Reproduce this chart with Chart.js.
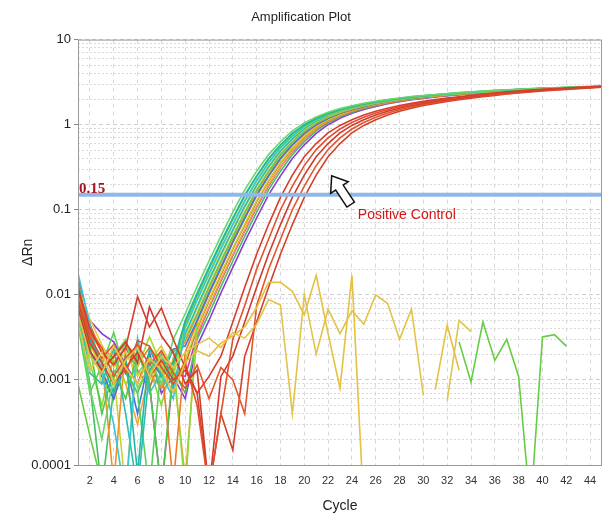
<!DOCTYPE html>
<html>
<head>
<meta charset="utf-8">
<script src="https://cdn.jsdelivr.net/npm/chart.js@4.4.1/dist/chart.umd.min.js"></script>
<style>
  html, body { margin: 0; padding: 0; background: #fff; }
</style>
</head>
<body>
<canvas id="myChart" width="605" height="520"></canvas>
<script>
const ctx = document.querySelector("#myChart").getContext("2d");

const cycles = [1, 2, 3, 4, 5, 6, 7, 8, 9, 10, 11, 12, 13, 14, 15, 16, 17, 18, 19, 20, 21, 22, 23,
  24, 25, 26, 27, 28, 29, 30, 31, 32, 33, 34, 35, 36, 37, 38, 39, 40, 41, 42, 43, 44, 45];
const xTicks = [2, 4, 6, 8, 10, 12, 14, 16, 18, 20, 22, 24, 26, 28, 30, 32, 34, 36, 38, 40, 42, 44];
const yTicks = [0.0001, 0.001, 0.01, 0.1, 1, 10];
const yTickLabels = ["0.0001", "0.001", "0.01", "0.1", "1", "10"];
const threshold = 0.15;

// samples (delta Rn per cycle)
const well01 = [0.006, 0.0008, 0.0002, 0.0011, 0.0028, 0.0012, 0.0018, 0.0009, 0.003,
  0.006, 0.0125, 0.025, 0.049, 0.094, 0.171, 0.284, 0.445, 0.63, 0.845, 1.05, 1.235, 1.4, 1.545, 1.67, 1.785, 1.885, 1.98, 2.06, 2.14, 2.2, 2.26, 2.32, 2.38, 2.43, 2.48, 2.53, 2.57, 2.61, 2.65, 2.69, 2.72, 2.75, 2.78, 2.8, 2.82];
const well02 = [0.014, 0.003, 0.0016, 0.0007, 0.0019, 0.00008, 0.0024, 0.0011, 0.0016,
  0.005, 0.0105, 0.021, 0.042, 0.08, 0.15, 0.25, 0.4, 0.58, 0.79, 1.0, 1.19, 1.36, 1.51, 1.64, 1.76, 1.86, 1.96, 2.04, 2.12, 2.19, 2.25, 2.31, 2.37, 2.42, 2.47, 2.52, 2.56, 2.6, 2.64, 2.68, 2.71, 2.74, 2.77, 2.8, 2.82];
const well03 = [0.008, 0.0025, 0.0004, 0.0013, 0.0006, 0.0021, 0.0009, 0.00005, 0.0014,
  0.0046, 0.0098, 0.02, 0.04, 0.077, 0.145, 0.245, 0.39, 0.57, 0.78, 0.98, 1.17, 1.34, 1.49, 1.62, 1.74, 1.85, 1.95, 2.03, 2.11, 2.18, 2.24, 2.3, 2.36, 2.41, 2.46, 2.51, 2.55, 2.59, 2.63, 2.67, 2.7, 2.73, 2.76, 2.79, 2.81];
const well04 = [0.018, 0.0045, 0.0012, 0.0003, 0.00004, 0.0031, 0.0007, 0.0012, 0.0006, 0.0042,
  0.0088, 0.0178, 0.0355, 0.068, 0.128, 0.221, 0.36, 0.535, 0.735, 0.95, 1.145, 1.32, 1.475, 1.61, 1.73, 1.835, 1.935, 2.02, 2.1, 2.17, 2.23, 2.29, 2.35, 2.4, 2.45, 2.5, 2.55, 2.59, 2.63, 2.67, 2.7, 2.73, 2.76, 2.79, 2.81];
const well05 = [0.01, 0.0035, 0.0022, 0.0017, 0.0009, 0.0014, 0.0032, 0.0015, 0.0011, 0.004,
  0.0085, 0.017, 0.034, 0.066, 0.124, 0.215, 0.35, 0.525, 0.72, 0.93, 1.13, 1.3, 1.46, 1.6, 1.72, 1.825, 1.925, 2.01, 2.09, 2.16, 2.22, 2.28, 2.34, 2.39, 2.44, 2.49, 2.54, 2.58, 2.62, 2.66, 2.69, 2.72, 2.75, 2.78, 2.8];
const well06 = [0.007, 0.0012, 0.0009, 0.0024, 0.0004, 0.00005, 0.0013, 0.002, 0.0008, 0.0035,
  0.0073, 0.015, 0.03, 0.058, 0.11, 0.195, 0.32, 0.49, 0.68, 0.9, 1.1, 1.28, 1.44, 1.58, 1.7, 1.81, 1.91, 2.0, 2.08, 2.155, 2.22, 2.28, 2.34, 2.39, 2.44, 2.49, 2.54, 2.58, 2.62, 2.66, 2.69, 2.72, 2.75, 2.78, 2.8];
const well07 = [0.012, 0.0052, 0.0026, 0.0014, 0.0021, 0.0011, 0.0017, 0.0025, 0.0013, 0.0032,
  0.0069, 0.0142, 0.0285, 0.056, 0.106, 0.19, 0.31, 0.48, 0.67, 0.88, 1.08, 1.26, 1.42, 1.56, 1.69, 1.8, 1.9, 1.99, 2.07, 2.145, 2.21, 2.27, 2.33, 2.38, 2.43, 2.48, 2.53, 2.57, 2.61, 2.65, 2.68, 2.71, 2.74, 2.77, 2.79];
const well08 = [0.0045, 0.0007, 0.0015, 0.0036, 0.0012, 0.0007, 0.00005, 0.0016, 0.0021, 0.003,
  0.006, 0.0125, 0.025, 0.049, 0.094, 0.171, 0.284, 0.445, 0.63, 0.845, 1.05, 1.235, 1.4, 1.545, 1.67, 1.785, 1.885, 1.98, 2.06, 2.14, 2.2, 2.26, 2.32, 2.38, 2.43, 2.48, 2.53, 2.57, 2.61, 2.65, 2.69, 2.72, 2.75, 2.78, 2.8];
const well09 = [0.009, 0.0028, 0.0018, 0.00006, 0.0026, 0.0019, 0.0012, 0.0008, 0.0017, 0.0028,
  0.0058, 0.012, 0.024, 0.047, 0.09, 0.165, 0.275, 0.435, 0.62, 0.83, 1.035, 1.22, 1.385, 1.53, 1.66, 1.775, 1.875, 1.97, 2.05, 2.13, 2.19, 2.25, 2.31, 2.37, 2.42, 2.47, 2.52, 2.56, 2.6, 2.64, 2.68, 2.71, 2.74, 2.77, 2.79];
const well10 = [0.005, 0.0021, 0.0013, 0.0006, 0.0016, 0.0004, 0.0019, 0.0011, 0.0023, 0.0025,
  0.005, 0.0105, 0.021, 0.042, 0.08, 0.15, 0.25, 0.4, 0.58, 0.79, 1.0, 1.19, 1.36, 1.51, 1.64, 1.76, 1.86, 1.96, 2.04, 2.12, 2.19, 2.25, 2.31, 2.37, 2.42, 2.47, 2.52, 2.56, 2.6, 2.64, 2.68, 2.71, 2.74, 2.77, 2.8];
const well11 = [0.011, 0.004, 0.0024, 0.0018, 0.0027, 0.0015, 0.0024, 0.0016, 0.00006, 0.0021,
  0.0048, 0.0101, 0.0203, 0.041, 0.078, 0.146, 0.245, 0.395, 0.575, 0.78, 0.99, 1.18, 1.35, 1.5, 1.63, 1.75, 1.85, 1.95, 2.03, 2.11, 2.18, 2.24, 2.3, 2.36, 2.41, 2.46, 2.51, 2.55, 2.59, 2.63, 2.67, 2.7, 2.73, 2.76, 2.79];
const well12 = [0.0065, 0.0016, 0.0005, 0.0019, 0.003, 0.0008, 0.0014, 0.0005, 0.0018, 0.00005,
  0.0052, 0.0108, 0.0215, 0.043, 0.082, 0.153, 0.255, 0.405, 0.585, 0.795, 1.005, 1.195, 1.365, 1.515, 1.645, 1.765, 1.865, 1.965, 2.045, 2.125, 2.195, 2.255, 2.315, 2.375, 2.425, 2.475, 2.525, 2.565, 2.605, 2.645, 2.685, 2.715, 2.745, 2.775, 2.8];
const well13 = [0.008, 0.0033, 0.0009, 0.0012, 0.00005, 0.0023, 0.001, 0.0015, 0.0009, 0.0017,
  0.0042, 0.0088, 0.0178, 0.0355, 0.068, 0.128, 0.221, 0.36, 0.535, 0.735, 0.95, 1.145, 1.32, 1.475, 1.61, 1.73, 1.835, 1.935, 2.02, 2.1, 2.17, 2.23, 2.29, 2.35, 2.4, 2.45, 2.5, 2.55, 2.59, 2.63, 2.67, 2.7, 2.73, 2.76, 2.79];
const well14 = [0.016, 0.0045, 0.0021, 0.0016, 0.0024, 0.0013, 0.0008, 0.0019, 0.0011, 0.0015,
  0.004, 0.0085, 0.0172, 0.0345, 0.066, 0.125, 0.216, 0.352, 0.525, 0.725, 0.94, 1.135, 1.31, 1.465, 1.6, 1.72, 1.825, 1.925, 2.01, 2.09, 2.16, 2.22, 2.28, 2.34, 2.39, 2.44, 2.49, 2.54, 2.58, 2.62, 2.66, 2.69, 2.72, 2.75, 2.78];
const well15 = [0.0075, 0.0026, 0.0014, 0.0021, 0.0009, 0.0003, 0.0012, 0.0022, 0.0014, 0.00007,
  0.0035, 0.0073, 0.015, 0.03, 0.058, 0.11, 0.195, 0.32, 0.49, 0.68, 0.9, 1.1, 1.28, 1.44, 1.58, 1.7, 1.81, 1.91, 2.0, 2.08, 2.155, 2.22, 2.28, 2.34, 2.39, 2.44, 2.49, 2.54, 2.58, 2.62, 2.66, 2.69, 2.72, 2.75, 2.78];
const well16 = [0.013, 0.0038, 0.0011, 0.0006, 0.0017, 0.0026, 0.0009, 0.00005, 0.0012, 0.0011,
  0.0033, 0.007, 0.0145, 0.029, 0.056, 0.107, 0.19, 0.315, 0.483, 0.672, 0.89, 1.09, 1.27, 1.43, 1.57, 1.69, 1.8, 1.9, 1.99, 2.07, 2.145, 2.21, 2.27, 2.33, 2.38, 2.43, 2.48, 2.53, 2.57, 2.61, 2.65, 2.68, 2.71, 2.74, 2.77];
const well17 = [0.0055, 0.0009, 0.00005, 0.0008, 0.0013, 0.0007, 0.0016, 0.0008, 0.0013, 0.0007, 0.003,
  0.006, 0.0125, 0.025, 0.049, 0.094, 0.171, 0.284, 0.445, 0.63, 0.845, 1.05, 1.235, 1.4, 1.545, 1.67, 1.785, 1.885, 1.98, 2.06, 2.14, 2.2, 2.26, 2.32, 2.38, 2.43, 2.48, 2.53, 2.57, 2.61, 2.65, 2.69, 2.72, 2.75, 2.78];
const well18 = [0.01, 0.005, 0.0035, 0.0028, 0.0015, 0.0009, 0.0021, 0.0007, 0.0011, 0.0006, 0.0025,
  0.005, 0.0105, 0.021, 0.042, 0.08, 0.15, 0.25, 0.4, 0.58, 0.79, 1.0, 1.19, 1.36, 1.51, 1.64, 1.76, 1.86, 1.96, 2.04, 2.12, 2.19, 2.25, 2.31, 2.37, 2.42, 2.47, 2.52, 2.56, 2.6, 2.64, 2.68, 2.71, 2.74, 2.77];

// positive controls
const posCtrl1 = [0.012, 0.004, 0.0021, 0.0015, 0.0024, 0.0095, 0.0042, 0.007, 0.003, 0.0014, 0.0007, 0.0011,
  0.0019, 0.0048, 0.0123, 0.03, 0.067, 0.14, 0.255, 0.42, 0.6, 0.8, 0.98, 1.14, 1.3, 1.44, 1.56, 1.68, 1.78, 1.88, 1.97, 2.05, 2.13, 2.21, 2.29, 2.36, 2.43, 2.49, 2.55, 2.6, 2.65, 2.7, 2.75, 2.79, 2.82];
const posCtrl2 = [0.009, 0.0032, 0.0018, 0.0026, 0.0012, 0.0029, 0.0025, 0.0014, 0.0009, 0.0016, 0.0005, 0.00005, 0.0004,
  0.003, 0.0075, 0.02, 0.045, 0.1, 0.19, 0.33, 0.51, 0.7, 0.89, 1.06, 1.22, 1.37, 1.5, 1.62, 1.73, 1.83, 1.92, 2.01, 2.1, 2.17, 2.25, 2.32, 2.39, 2.46, 2.52, 2.58, 2.63, 2.68, 2.73, 2.77, 2.8];
const posCtrl3 = [0.007, 0.0022, 0.0013, 0.0019, 0.0028, 0.0016, 0.0072, 0.0033, 0.0021, 0.0009, 0.0013, 0.00005, 0.0011,
  0.0019, 0.0048, 0.0123, 0.03, 0.067, 0.14, 0.255, 0.42, 0.6, 0.8, 0.98, 1.14, 1.3, 1.44, 1.56, 1.68, 1.78, 1.88, 1.97, 2.05, 2.13, 2.21, 2.29, 2.36, 2.43, 2.49, 2.55, 2.6, 2.65, 2.7, 2.75, 2.79];
const posCtrl4 = [0.011, 0.0035, 0.0024, 0.0011, 0.0018, 0.0026, 0.0015, 0.0022, 0.0012, 0.0008, 0.0015, 0.0006, 0.0014, 0.001,
  0.0004, 0.0075, 0.02, 0.045, 0.1, 0.19, 0.33, 0.51, 0.7, 0.89, 1.06, 1.22, 1.37, 1.5, 1.62, 1.73, 1.83, 1.92, 2.01, 2.1, 2.17, 2.25, 2.32, 2.39, 2.46, 2.52, 2.58, 2.63, 2.68, 2.73, 2.77];
const posCtrl5 = [0.0085, 0.0027, 0.0016, 0.0009, 0.0014, 0.0021, 0.0011, 0.0017, 0.001, 0.0013, 0.0007, 0.00005, 0.0004, 0.00015,
  0.0019, 0.0048, 0.0123, 0.03, 0.067, 0.14, 0.255, 0.42, 0.6, 0.8, 0.98, 1.14, 1.3, 1.44, 1.56, 1.68, 1.78, 1.88, 1.97, 2.05, 2.13, 2.21, 2.29, 2.36, 2.43, 2.49, 2.55, 2.6, 2.65, 2.7, 2.75];

// no amplification (null = negative value, not drawn on log axis)
const negA = [0.006, 0.0019, 0.0012, 0.0025, 0.0014, 0.0009, 0.0018, 0.0013, 0.0007, 0.0016, 0.0022, 0.0019, 0.0027, 0.0033,
  0.0042, 0.0071, 0.014, 0.014, 0.011, 0.0058, 0.017, 0.0035, 0.0008, 0.017, 0.00003,
  null, null, null, null, null, 0.00077, 0.0044, 0.0013,
  null, null, null, null, null, null, null, null, null, null, null, null];
const negB = [0.0045, 0.0013, 0.0021, 0.0009, 0.0017, 0.0024, 0.0011, 0.0019, 0.0014, 0.0021, 0.0026, 0.0031, 0.0024, 0.0036,
  0.0031, 0.0045, 0.0088, 0.0076, 0.0004, 0.01, 0.002, 0.0068, 0.0035, 0.0065, 0.0045, 0.01, 0.0079, 0.003, 0.0068, 0.00066,
  null, 0.00057, 0.005, 0.0037,
  null, null, null, null, null, null, null, null, null, null, null];
const negC = [0.0009, 0.00022, 0.00006,
  null, null, null, null, null, null, null, null, null, null, null, null, null, null, null, null, null, null, null, null, null, null, null, null, null, null, null, null, null,
  0.0028, 0.00094, 0.0048, 0.0017, 0.003, 0.0011, 0.00003, 0.0032, 0.0034, 0.0025, null, null, null];

const samples = [well01, well02, well03, well04, well05, well06, well07, well08, well09,
  well10, well11, well12, well13, well14, well15, well16, well17, well18];
const sampleColors = ["#6ad66a", "#22b8a0", "#4cc84c", "#38c4dc", "#a6dc2a", "#2cbcb0", "#e6cc3c", "#5ad05a", "#f09028",
  "#3c78e0", "#ee7a22", "#88dc3c", "#c4d636", "#e05828", "#f4a234", "#c23cb4", "#46bf5e", "#8a3cd6"];
const controls = [posCtrl1, posCtrl2, posCtrl3, posCtrl4, posCtrl5];
const controlColors = ["#d83c2c", "#e0502c", "#cc3a30", "#e2562e", "#d4402a"];
const negatives = [negA, negB, negC];
const negativeColors = ["#e6c040", "#e2c44c", "#66cc44"];

const line = (data, color) => ({
  data: data,
  borderColor: color,
  borderWidth: 1.6,
  pointRadius: 0,
  tension: 0,
  spanGaps: false,
});

const datasets = [
  {
    data: [{ x: cycles[0], y: threshold }, { x: cycles[cycles.length - 1], y: threshold }],
    borderColor: "#8fb8e8",
    borderWidth: 4,
    pointRadius: 0,
  },
];
negatives.forEach((d, i) => datasets.push(line(d, negativeColors[i])));
controls.forEach((d, i) => datasets.push(line(d, controlColors[i])));
samples.forEach((d, i) => datasets.push(line(d, sampleColors[i])));

const sans = "'Liberation Sans', Arial, sans-serif";
Chart.defaults.font.family = sans;
Chart.defaults.color = "#222";

// frame + threshold label + arrow annotation
const annotations = {
  id: "annotations",
  afterDraw(chart) {
    const { ctx, chartArea: a, scales: { x, y } } = chart;
    ctx.save();
    ctx.strokeStyle = "#9a9a9a";
    ctx.lineWidth = 1;
    ctx.strokeRect(a.left + 0.5, a.top + 0.5, a.right - a.left - 1, a.bottom - a.top);

    ctx.fillStyle = "#a8141e";
    ctx.font = "bold 15px 'Liberation Serif', 'Times New Roman', serif";
    ctx.textBaseline = "alphabetic";
    ctx.fillText("0.15", a.left + 1, y.getPixelForValue(threshold) - 2);

    // hollow arrow
    const tx = x.getPixelForValue(22.3), ty = y.getPixelForValue(0.25);
    const sx = x.getPixelForValue(23.9), sy = y.getPixelForValue(0.115);
    const ang = Math.atan2(ty - sy, tx - sx);
    const len = Math.hypot(tx - sx, ty - sy);
    ctx.translate(sx, sy);
    ctx.rotate(ang);
    ctx.beginPath();
    ctx.moveTo(0, -4.5);
    ctx.lineTo(len - 14, -4.5);
    ctx.lineTo(len - 14, -10.5);
    ctx.lineTo(len, 0);
    ctx.lineTo(len - 14, 10.5);
    ctx.lineTo(len - 14, 4.5);
    ctx.lineTo(0, 4.5);
    ctx.closePath();
    ctx.fillStyle = "#fff";
    ctx.fill();
    ctx.strokeStyle = "#111";
    ctx.lineWidth = 1.5;
    ctx.stroke();
    ctx.restore();

    ctx.save();
    ctx.fillStyle = "#d41616";
    ctx.font = "14px " + sans;
    ctx.fillText("Positive Control", x.getPixelForValue(24.5), y.getPixelForValue(0.078));
    ctx.restore();
  },
};

const isMajor = (v) => yTicks.indexOf(v) >= 0;

const config = {
  type: "line",
  data: { labels: cycles, datasets },
  options: {
    responsive: false,
    animation: false,
    events: [],
    layout: { padding: { right: 3 } },
    plugins: {
      legend: { display: false },
      tooltip: { enabled: false },
      title: {
        display: true,
        text: "Amplification Plot",
        color: "#222",
        font: { size: 13, weight: "normal" },
        padding: { top: 10, bottom: 14 },
      },
    },
    scales: {
      x: {
        type: "linear",
        min: cycles[0],
        max: cycles[cycles.length - 1],
        afterBuildTicks: (s) => {
          s.ticks = xTicks.map((v) => ({ value: v }));
        },
        afterFit: (s) => {
          s.height = 55;
        },
        ticks: { autoSkip: false, maxRotation: 0, padding: 5, font: { size: 11 }, color: "#333" },
        grid: { color: "#d6d6d6", tickLength: 4, tickColor: "rgba(0,0,0,0)" },
        border: { display: false, dash: [4, 4] },
        title: { display: true, text: "Cycle", font: { size: 14 }, color: "#222", padding: { top: 0, bottom: 5 } },
      },
      y: {
        type: "logarithmic",
        min: yTicks[0],
        max: yTicks[yTicks.length - 1],
        afterBuildTicks: (s) => {
          const t = [];
          yTicks.forEach((v, i) => {
            t.push({ value: v });
            if (i < yTicks.length - 1) {
              for (let m = 2; m <= 9; m++) t.push({ value: v * m });
            }
          });
          s.ticks = t;
        },
        afterFit: (s) => {
          s.width = 78;
        },
        ticks: {
          autoSkip: false,
          padding: 3,
          font: { size: 13 },
          color: "#222",
          callback: (v) => {
            const i = yTicks.indexOf(v);
            return i >= 0 ? yTickLabels[i] : "";
          },
        },
        grid: {
          color: (c) => (isMajor(c.tick.value) ? "#cfcfcf" : "#dadada"),
          tickLength: 4,
          tickColor: (c) => (isMajor(c.tick.value) ? "#888" : "rgba(0,0,0,0)"),
        },
        border: { display: false, dash: (c) => (isMajor(c.tick.value) ? [4, 3] : [2, 2]) },
        title: { display: true, text: "ΔRn", font: { size: 14 }, color: "#222", padding: { top: 20 } },
      },
    },
  },
  plugins: [annotations],
};

const myChart = new Chart(ctx, config);
</script>
</body>
</html>
